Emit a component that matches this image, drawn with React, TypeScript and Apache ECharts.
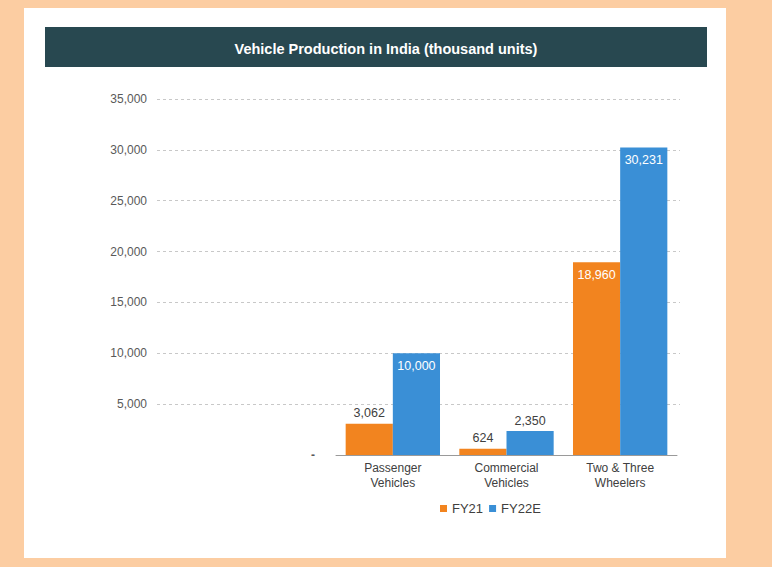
import React, { useEffect, useRef } from "react";
import * as echarts from "echarts";

const categories = ["Passenger\nVehicles", "Commercial\nVehicles", "Two & Three\nWheelers"];
const fy21 = [3062, 624, 18960];
const fy22e = [10000, 2350, 30231];
const seriesNames = ["FY21", "FY22E"];
const yTicks = [0, 5000, 10000, 15000, 20000, 25000, 30000, 35000];

const ORANGE = "#F2841F";
const BLUE = "#3A8FD6";
const FONT = "Liberation Sans, Arial, sans-serif";

const fmt = (v: number) => v.toLocaleString("en-US");

function buildData(vals: number[]) {
  return vals.map((v) => ({
    value: v,
    label:
      v > 5000
        ? { position: "insideTop", color: "#ffffff", distance: 6 }
        : { position: "top", color: "#404040", distance: 4 },
  }));
}

export default function App() {
  const ref = useRef<HTMLDivElement>(null);
  useEffect(() => {
    if (!ref.current) return;
    const chart = echarts.init(ref.current, undefined, { renderer: "svg" });
    const yMax = yTicks[yTicks.length - 1];
    chart.setOption({
      animation: false,
      backgroundColor: "#FCCDA2",
      graphic: [
        { type: "rect", shape: { x: 24, y: 8, width: 702, height: 550 }, style: { fill: "#ffffff" }, z: -10 },
        { type: "rect", shape: { x: 45, y: 27, width: 662, height: 40 }, style: { fill: "#284850" }, z: -9 },
        {
          type: "text",
          x: 313,
          y: 455,
          style: { text: "-", fill: "#595959", font: `bold 12px ${FONT}`, align: "center", verticalAlign: "middle" },
        },
      ],
      title: {
        text: "Vehicle Production in India (thousand units)",
        left: "center",
        top: 36,
        textStyle: { color: "#ffffff", fontSize: 14.5, fontWeight: "bold", fontFamily: FONT },
      },
      legend: {
        data: seriesNames,
        left: 435,
        top: 497,
        icon: "rect",
        itemWidth: 7,
        itemHeight: 7,
        itemGap: 6,
        textStyle: { color: "#404040", fontSize: 13, fontFamily: FONT },
      },
      grid: [
        { left: 157, right: 92, top: 99, bottom: 112 },
        { left: 336, right: 95, top: 99, bottom: 112 },
      ],
      xAxis: [
        { type: "value", gridIndex: 0, show: false, min: 0, max: 1 },
        {
          type: "category",
          gridIndex: 1,
          data: categories,
          axisLine: { lineStyle: { color: "#9A9A9A" } },
          axisTick: { length: 5, lineStyle: { color: "#9A9A9A" } },
          axisLabel: { color: "#404040", fontSize: 12, fontFamily: FONT, lineHeight: 15, margin: 5 },
        },
      ],
      yAxis: [
        {
          type: "value",
          gridIndex: 0,
          min: 0,
          max: yMax,
          interval: 5000,
          axisLine: { show: false },
          axisTick: { show: false },
          axisLabel: {
            color: "#595959",
            fontSize: 12,
            fontFamily: FONT,
            margin: 10,
            formatter: (v: number) => (v === 0 ? "" : fmt(v)),
          },
          splitLine: { showMinLine: false, lineStyle: { color: "#C8C8C8", type: [3, 3] } },
        },
        { type: "value", gridIndex: 1, min: 0, max: yMax, show: false, splitLine: { show: false } },
      ],
      series: [
        {
          name: seriesNames[0],
          type: "bar",
          xAxisIndex: 1,
          yAxisIndex: 1,
          data: buildData(fy21),
          itemStyle: { color: ORANGE },
          barGap: "0%",
          barCategoryGap: "17%",
          label: { show: true, fontSize: 12.5, fontFamily: FONT, formatter: (p: any) => fmt(p.value) },
        },
        {
          name: seriesNames[1],
          type: "bar",
          xAxisIndex: 1,
          yAxisIndex: 1,
          data: buildData(fy22e),
          itemStyle: { color: BLUE },
          barGap: "0%",
          barCategoryGap: "17%",
          label: { show: true, fontSize: 12.5, fontFamily: FONT, formatter: (p: any) => fmt(p.value) },
        },
      ],
    });
    return () => chart.dispose();
  }, []);
  return <div ref={ref} style={{ position: "absolute", left: 0, top: 0, width: 772, height: 567 }} />;
}
